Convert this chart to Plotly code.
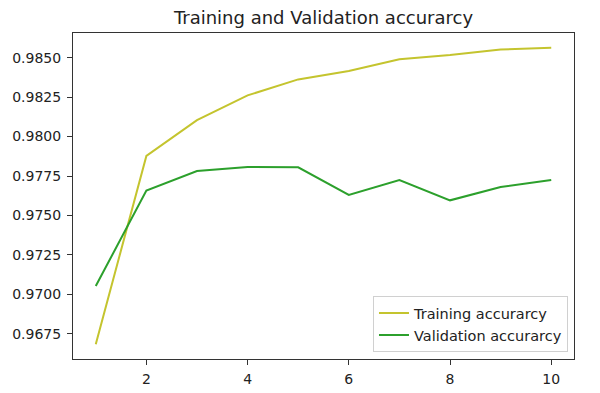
import plotly.graph_objects as go

epochs = [1, 2, 3, 4, 5, 6, 7, 8, 9, 10]
training_accuracy = [0.96685, 0.97877, 0.98104, 0.98261, 0.98362, 0.98415, 0.98489, 0.98516, 0.98552, 0.98562]
validation_accuracy = [0.97053, 0.97658, 0.97782, 0.97807, 0.97805, 0.97630, 0.97725, 0.97596, 0.97680, 0.97725]
y_ticks = [0.9675, 0.9700, 0.9725, 0.9750, 0.9775, 0.9800, 0.9825, 0.9850]
x_ticks = [2, 4, 6, 8, 10]

fig = go.Figure()
fig.add_trace(go.Scatter(x=epochs, y=training_accuracy, mode="lines",
                         name="Training accurarcy", line=dict(color="#c4c42e", width=2)))
fig.add_trace(go.Scatter(x=epochs, y=validation_accuracy, mode="lines",
                         name="Validation accurarcy", line=dict(color="#2ca02c", width=2)))

font_family = "DejaVu Sans"
fig.update_layout(
    width=600, height=393,
    margin=dict(l=73, r=26, t=33, b=34, autoexpand=False),
    paper_bgcolor="white", plot_bgcolor="white",
    font=dict(family=font_family, size=13, color="#222"),
    title=dict(text="Training and Validation accurarcy", x=0.5, xanchor="center",
               xref="paper", yref="container", y=1 - 18 / 393, yanchor="middle",
               automargin=False,
               font=dict(size=18, family=font_family, color="#222")),
    showlegend=True,
    legend=dict(x=0.988, y=0.021, xanchor="right", yanchor="bottom",
                bgcolor="rgba(255,255,255,0.8)", bordercolor="#d0d0d0", borderwidth=1,
                font=dict(size=14.5, family=font_family, color="#222"),
                tracegroupgap=0, itemwidth=30),
)
fig.update_xaxes(range=[0.55, 10.45], tickvals=x_ticks, showgrid=False, zeroline=False,
                 showline=True, linecolor="#333", linewidth=1, mirror=True,
                 ticks="outside", ticklen=5, tickcolor="#333", automargin=False,
                 ticklabelstandoff=2,
                 tickfont=dict(size=14, family=font_family, color="#222"))
fig.update_yaxes(range=[0.96591, 0.98656], tickvals=y_ticks, tickformat=".4f",
                 showgrid=False, zeroline=False,
                 showline=True, linecolor="#333", linewidth=1, mirror=True,
                 ticks="outside", ticklen=5, tickcolor="#333", automargin=False,
                 ticklabelstandoff=3,
                 tickfont=dict(size=14, family=font_family, color="#222"))

fig.write_html("out.html", config={"displayModeBar": False},
               post_script="document.body.style.margin='0';")
